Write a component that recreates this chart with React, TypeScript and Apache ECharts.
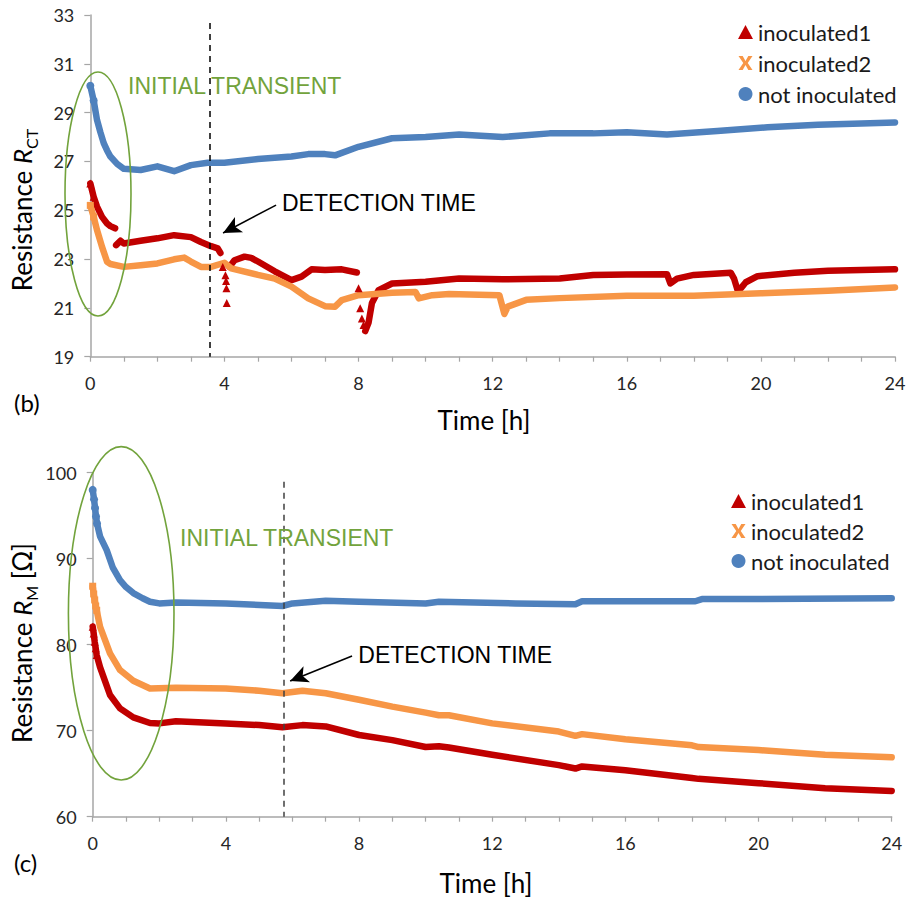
import React, { useEffect, useRef } from 'react';
import * as echarts from 'echarts';

// ---------- Panel (b): charge-transfer resistance R_CT ----------
const B_NOT_T = [0, 0.1, 0.2, 0.3, 0.4, 0.5, 0.6, 0.8, 1.0, 1.5, 2.0, 2.5, 3.0, 3.5, 4.0, 5.0, 6.0, 6.5, 7.0, 7.3, 8.0, 9.0, 10.0, 11.0, 12.3, 13.7, 15.0, 16.0, 17.2, 18.7, 20.2, 21.7, 23.0, 24.0];
const B_NOT_V = [30.1, 29.5, 28.7, 28.2, 27.75, 27.45, 27.2, 26.9, 26.7, 26.65, 26.8, 26.6, 26.85, 26.95, 26.95, 27.1, 27.2, 27.3, 27.3, 27.25, 27.6, 27.95, 28.0, 28.1, 28.0, 28.15, 28.15, 28.2, 28.1, 28.25, 28.4, 28.5, 28.55, 28.6];

const B_IN1_T = [0, 0.1, 0.2, 0.35, 0.5, 0.6, 0.74, 0.75, 0.77, 0.9, 1.0, 1.5, 2.0, 2.5, 3.0, 3.3, 3.6, 3.8, 3.88, 3.9, 3.95, 3.97, 4.03, 4.035, 4.05, 4.055, 4.06, 4.065, 4.07, 4.1, 4.15, 4.3, 4.6, 4.8, 5.0, 5.5, 6.0, 6.3, 6.6, 7.0, 7.5, 7.95, 7.97, 8.0, 8.02, 8.05, 8.07, 8.1, 8.12, 8.15, 8.17, 8.2, 8.3, 8.4, 8.6, 9.0, 10.0, 11.0, 12.3, 14.0, 15.0, 16.0, 17.2, 17.3, 17.5, 18.0, 19.1, 19.2, 19.3, 19.4, 19.55, 19.9, 21.0, 22.0, 24.0];
const B_IN1_V = [26.1, 25.55, 25.15, 24.73, 24.46, 24.35, 24.26, null, 23.57, 23.75, 23.64, 23.75, 23.85, 23.98, 23.9, 23.7, 23.53, 23.44, 23.25, null, 22.68, null, 22.34, null, 22.1, null, 21.8, null, 21.2, null, 22.68, 22.95, 23.1, 23.05, 22.9, 22.5, 22.14, 22.28, 22.58, 22.55, 22.58, 22.45, null, 21.8, null, 20.98, null, 20.57, null, 20.3, null, 20.05, 20.4, 21.2, 21.73, 22.0, 22.07, 22.2, 22.17, 22.2, 22.35, 22.37, 22.38, 22.0, 22.2, 22.35, 22.44, 22.2, 21.75, 21.8, 22.05, 22.3, 22.44, 22.52, 22.58];

const B_IN2_T = [0, 0.1, 0.2, 0.35, 0.5, 0.6, 1.0, 1.5, 2.0, 2.5, 2.8, 3.0, 3.3, 3.6, 4.0, 4.2, 5.0, 5.5, 6.0, 6.5, 7.0, 7.3, 7.5, 8.0, 9.0, 9.7, 9.8, 10.2, 10.7, 12.2, 12.35, 12.45, 13.0, 14.0, 16.0, 18.0, 20.0, 22.0, 24.0];
const B_IN2_V = [25.2, 24.73, 24.19, 23.5, 22.89, 22.8, 22.68, 22.75, 22.82, 22.99, 23.06, 22.9, 22.68, 22.68, 22.85, 22.62, 22.35, 22.2, 21.87, 21.39, 21.07, 21.05, 21.32, 21.52, 21.62, 21.65, 21.39, 21.52, 21.57, 21.52, 20.75, 21.05, 21.33, 21.4, 21.5, 21.5, 21.6, 21.7, 21.84];

// ---------- Panel (c): membrane resistance R_M ----------
const C_NOT_T = [0, 0.04, 0.07, 0.1, 0.13, 0.22, 0.42, 0.6, 0.82, 1.0, 1.22, 1.5, 1.72, 2.0, 2.5, 4.0, 5.7, 6.0, 7.0, 8.0, 10.0, 10.4, 12.7, 14.5, 14.7, 18.1, 18.3, 20.0, 24.0];
const C_NOT_V = [98.0, 96.9, 95.9, 94.9, 94.1, 92.6, 91.0, 89.0, 87.5, 86.7, 86.0, 85.4, 85.0, 84.8, 84.9, 84.8, 84.5, 84.8, 85.1, 85.0, 84.8, 85.0, 84.8, 84.7, 85.05, 85.05, 85.3, 85.3, 85.4];

const C_IN1_T = [0, 0.03, 0.06, 0.09, 0.12, 0.22, 0.52, 0.82, 1.22, 1.72, 2.0, 2.5, 4.0, 5.0, 5.7, 6.3, 7.0, 8.0, 9.0, 10.0, 10.4, 10.7, 12.0, 14.0, 14.5, 14.7, 16.0, 18.0, 18.2, 20.0, 22.0, 24.0];
const C_IN1_V = [82.1, 81.3, 80.35, 79.6, 78.8, 77.4, 74.15, 72.6, 71.55, 70.9, 70.85, 71.1, 70.85, 70.65, 70.4, 70.65, 70.5, 69.5, 68.9, 68.1, 68.2, 68.05, 67.2, 66.0, 65.6, 65.85, 65.4, 64.5, 64.4, 63.9, 63.3, 63.0];

const C_IN2_T = [0, 0.03, 0.06, 0.09, 0.12, 0.22, 0.52, 0.82, 1.22, 1.72, 2.5, 4.0, 5.0, 5.7, 6.3, 7.0, 8.0, 9.0, 10.0, 10.4, 10.7, 12.0, 14.0, 14.5, 14.7, 16.0, 18.0, 18.2, 20.0, 22.0, 24.0];
const C_IN2_V = [86.8, 85.9, 85.2, 84.5, 84.0, 82.1, 79.0, 77.05, 75.8, 74.9, 75.0, 74.9, 74.65, 74.35, 74.65, 74.35, 73.6, 72.8, 72.1, 71.8, 71.8, 70.85, 69.9, 69.4, 69.6, 69.0, 68.3, 68.1, 67.75, 67.2, 66.9];

const SERIES_NAMES = ['inoculated1', 'inoculated2', 'not inoculated'];
const B_TICKS = { min: 19, max: 33, interval: 2 };
const C_TICKS = { min: 60, max: 100, interval: 10 };
const X_TICKS = { min: 0, max: 24, interval: 1, labelEvery: 4 };
const B_DETECTION = 3.56;
const C_DETECTION = 5.74;

const RED = '#c00000';
const ORANGE = '#f79646';
const BLUE = '#4f81bd';
const GREEN = '#72a33c';
const X_ICON = 'path://M0,0 L3,0 L5,3.6 L7,0 L10,0 L6.6,5 L10,10 L7,10 L5,6.4 L3,10 L0,10 L3.4,5 Z';

// markers are shown where the sampled points are visibly separated: the first samples and isolated points
const MARKER_UNTIL = 0.15;
const pairs = (t: number[], v: (number | null)[], size: number) =>
  t.map((x, i) => {
    if (v[i] == null) return [x, '-'];
    const isolated = (i > 0 && v[i - 1] == null) && (i < v.length - 1 && v[i + 1] == null);
    const show = x <= MARKER_UNTIL || isolated;
    return { value: [x, v[i]], symbolSize: show ? size : 0 };
  });

export default function App() {
  const ref = useRef<HTMLDivElement>(null);
  useEffect(() => {
    document.body.style.margin = '0';
    const chart = echarts.init(ref.current!, null, { renderer: 'svg' });
    const sans = 'Lato, "Noto Sans", sans-serif';
    const arial = '"Liberation Sans", Arial, sans-serif';

    const xAxisBase = (gridIndex: number) => ({
      type: 'value', gridIndex, min: X_TICKS.min, max: X_TICKS.max, interval: X_TICKS.interval,
      splitLine: { show: false },
      axisLine: { lineStyle: { color: '#a6a6a6', width: 1.5 } },
      axisTick: { show: true, length: 5, lineStyle: { color: '#a6a6a6', width: 1.2 } },
      axisLabel: {
        margin: 17, fontFamily: sans, fontSize: 18, color: '#262626',
        formatter: (v: number) => (v % X_TICKS.labelEvery === 0 ? String(v) : ''),
      },
    });
    const yAxisBase = (gridIndex: number, t: any) => ({
      type: 'value', gridIndex, min: t.min, max: t.max, interval: t.interval,
      splitLine: { show: false },
      axisLine: { show: true, lineStyle: { color: '#a6a6a6', width: 1.5 } },
      axisTick: { show: true, length: 6, lineStyle: { color: '#a6a6a6', width: 1.2 } },
      axisLabel: { margin: 16, fontFamily: sans, fontSize: 18, color: '#262626' },
    });

    const lineSeries = (name: string, idx: number, t: number[], v: (number | null)[], color: string, symbol: string, size: number, extra: any = {}) => ({
      name, type: 'line', xAxisIndex: idx, yAxisIndex: idx, data: pairs(t, v, size),
      symbol, symbolSize: size, showSymbol: true, showAllSymbol: true,
      connectNulls: false, smooth: false,
      lineStyle: { color, width: 6.5, cap: 'round', join: 'round' }, itemStyle: { color },
      emphasis: { disabled: true }, silent: true,
      ...extra,
    });

    const dashed = (x: number, top: number, bottom: number, color: string) => ({
      silent: true, symbol: ['none', 'none'], label: { show: false },
      lineStyle: { color, width: 1.5, type: [6, 5] },
      data: [[{ coord: [x, top] }, { coord: [x, bottom] }]],
    });
    const arrow = (from: number[], to: number[]) => ({
      silent: true, symbol: ['none', 'arrow'], symbolSize: [13, 18], label: { show: false },
      lineStyle: { color: '#000', width: 1.6, type: 'solid' },
      data: [[{ coord: from }, { coord: to }]],
    });

    const legendText = { fontFamily: sans, fontSize: 22, color: '#1a1a1a', lineHeight: 22 };
    const legendData = [
      { name: SERIES_NAMES[0], icon: 'triangle' },
      { name: SERIES_NAMES[1], icon: X_ICON },
      { name: SERIES_NAMES[2], icon: 'circle' },
    ];

    const axisTitleRich = {
      a: { fontFamily: sans, fontSize: 26, color: '#000', lineHeight: 34, verticalAlign: 'middle' },
      r: { fontFamily: sans, fontSize: 26, fontStyle: 'italic', color: '#000', lineHeight: 34, verticalAlign: 'middle' },
      s: { fontFamily: sans, fontSize: 16, color: '#000', lineHeight: 16, verticalAlign: 'bottom' },
    };

    chart.setOption({
      animation: false,
      backgroundColor: '#ffffff',
      grid: [
        { left: 90.3, right: 15, top: 15, bottom: 542.3 },
        { left: 92.7, right: 18.3, top: 472.7, bottom: 82.3 },
      ],
      xAxis: [xAxisBase(0), xAxisBase(1)],
      yAxis: [yAxisBase(0, B_TICKS), yAxisBase(1, C_TICKS)],
      legend: [
        { orient: 'vertical', left: 733, top: 16, itemGap: 9, itemWidth: 15, itemHeight: 14, selectedMode: false, textStyle: legendText, data: legendData },
        { orient: 'vertical', left: 726, top: 485, itemGap: 8, itemWidth: 15, itemHeight: 14, selectedMode: false, textStyle: legendText, data: legendData },
      ],
      series: [
        lineSeries(SERIES_NAMES[0], 0, B_IN1_T, B_IN1_V, RED, 'triangle', 8, { markLine: dashed(B_DETECTION, 32.67, 19, '#000') }),
        lineSeries(SERIES_NAMES[1], 0, B_IN2_T, B_IN2_V, ORANGE, 'rect', 7, { markLine: arrow([5.54, 25.21], [3.96, 24.07]) }),
        lineSeries(SERIES_NAMES[2], 0, B_NOT_T, B_NOT_V, BLUE, 'circle', 8),
        lineSeries(SERIES_NAMES[0], 1, C_IN1_T, C_IN1_V, RED, 'triangle', 8, { markLine: dashed(C_DETECTION, 98.95, 60, '#404040') }),
        lineSeries(SERIES_NAMES[1], 1, C_IN2_T, C_IN2_V, ORANGE, 'rect', 7, { markLine: arrow([7.79, 78.69], [5.93, 75.78]) }),
        lineSeries(SERIES_NAMES[2], 1, C_NOT_T, C_NOT_V, BLUE, 'circle', 8),
      ],
      graphic: [
        { type: 'ellipse', silent: true, z: 10, shape: { cx: 98, cy: 194, rx: 33, ry: 122 }, style: { fill: 'none', stroke: GREEN, lineWidth: 1.6 } },
        { type: 'ellipse', silent: true, z: 10, shape: { cx: 121.2, cy: 613.3, rx: 52.8, ry: 166.7 }, style: { fill: 'none', stroke: GREEN, lineWidth: 1.6 } },
        { type: 'text', silent: true, z: 10, x: 128, y: 85.5, style: { text: 'INITIAL TRANSIENT', fill: GREEN, fontFamily: arial, fontSize: 23, verticalAlign: 'middle' } },
        { type: 'text', silent: true, z: 10, x: 180, y: 537.7, style: { text: 'INITIAL TRANSIENT', fill: GREEN, fontFamily: arial, fontSize: 23, verticalAlign: 'middle' } },
        { type: 'text', silent: true, z: 10, x: 282, y: 203.3, style: { text: 'DETECTION TIME', fill: '#000', fontFamily: arial, fontSize: 23, verticalAlign: 'middle' } },
        { type: 'text', silent: true, z: 10, x: 358.3, y: 655, style: { text: 'DETECTION TIME', fill: '#000', fontFamily: arial, fontSize: 23, verticalAlign: 'middle' } },
        { type: 'text', silent: true, x: 484, y: 420, style: { text: 'Time [h]', fill: '#000', fontFamily: sans, fontSize: 26, align: 'center', verticalAlign: 'middle' } },
        { type: 'text', silent: true, x: 486, y: 883, style: { text: 'Time [h]', fill: '#000', fontFamily: sans, fontSize: 26, align: 'center', verticalAlign: 'middle' } },
        { type: 'text', silent: true, x: 14, y: 402, style: { text: '(b)', fill: '#000', fontFamily: sans, fontSize: 24, verticalAlign: 'middle' } },
        { type: 'text', silent: true, x: 14, y: 862, style: { text: '(c)', fill: '#000', fontFamily: sans, fontSize: 24, verticalAlign: 'middle' } },
        { type: 'text', silent: true, x: 22, y: 210, rotation: Math.PI / 2, style: { text: '{a|Resistance }{r|R}{s|CT}', rich: axisTitleRich, align: 'center', verticalAlign: 'middle' } },
        { type: 'text', silent: true, x: 22, y: 643, rotation: Math.PI / 2, style: { text: '{a|Resistance }{r|R}{s|M}{a| [Ω]}', rich: axisTitleRich, align: 'center', verticalAlign: 'middle' } },
      ],
    });
    return () => chart.dispose();
  }, []);
  return <div ref={ref} style={{ width: 910, height: 899 }} />;
}
